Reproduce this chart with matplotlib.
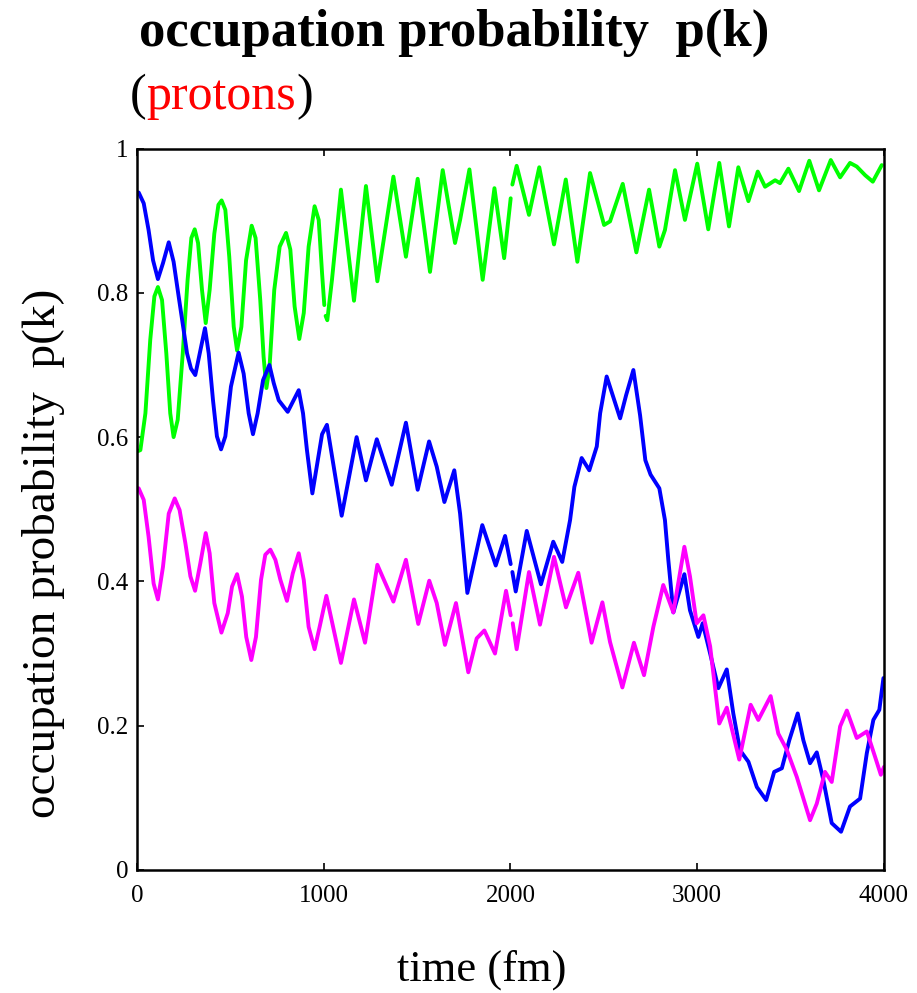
import numpy as np
import matplotlib
matplotlib.use("Agg")
import matplotlib.pyplot as plt

nan = np.nan

# green curve (gaps at 1000 and 2000 fm)
t_green = [0, 18, 45, 71, 93, 112, 134, 157, 178, 196,
           218, 245, 271, 291, 309, 327, 348, 368, 389, 414,
           436, 453, 473, 494, 518, 536, 559, 584, 614, 635,
           660, 678, 693, 710, 735, 764, 798, 821, 844, 869,
           893, 919, 951, 973, 991, 1003, nan, 1010, 1019, 1044,
           1092, 1162, 1226, 1287,
           1373, 1440, 1503, 1569, 1637, 1703, 1730, 1780, 1851, 1914,
           1966, 2001, nan, 2010, 2033, 2099, 2154, 2233, 2296, 2358,
           2426, 2501, 2533, 2601, 2674, 2742, 2797, 2827, 2881, 2934,
           3000, 3059, 3118, 3170, 3220, 3274, 3324, 3363, 3417, 3443,
           3488, 3545, 3600, 3652, 3715, 3765, 3818, 3854, 3899, 3940,
           3988]
p_green = [0.580, 0.582, 0.633, 0.735, 0.795, 0.808, 0.790, 0.716, 0.633, 0.600,
           0.624, 0.716, 0.818, 0.876, 0.888, 0.869, 0.804, 0.758, 0.804, 0.882,
           0.922, 0.928, 0.915, 0.850, 0.753, 0.720, 0.753, 0.845, 0.893, 0.876,
           0.790, 0.711, 0.668, 0.698, 0.804, 0.864, 0.883, 0.860, 0.781, 0.736,
           0.772, 0.864, 0.920, 0.901, 0.827, 0.783, nan, 0.768, 0.762, 0.818,
           0.943, 0.789, 0.948, 0.816,
           0.961, 0.850, 0.958, 0.829, 0.970, 0.869, 0.901, 0.971, 0.818, 0.945,
           0.848, 0.931, nan, 0.950, 0.976, 0.908, 0.974, 0.867, 0.957, 0.843,
           0.966, 0.894, 0.899, 0.951, 0.856, 0.943, 0.864, 0.887, 0.970, 0.901,
           0.979, 0.888, 0.980, 0.892, 0.974, 0.927, 0.968, 0.947, 0.956, 0.952,
           0.972, 0.941, 0.983, 0.942, 0.984, 0.960, 0.980, 0.975, 0.963, 0.954,
           0.977]

# blue curve
t_blue = [0, 9, 36, 62, 86, 112, 139, 170, 196, 223,
          250, 268, 289, 312, 336, 364, 384, 407, 428, 450,
          473, 503, 544, 571, 598, 621, 646, 675, 709, 732,
          759, 807, 866, 889, 910, 939, 991, 1017, 1096, 1176,
          1226, 1284, 1364, 1440, 1503, 1564, 1605, 1646, 1699, 1730,
          1769, 1849, 1921, 1971, 2001, nan, 2010, 2028, 2087, 2163,
          2229, 2277, 2319, 2342, 2381, 2422, 2462, 2480, 2515, 2587,
          2619, 2658, 2694, 2722, 2750, 2797, 2827, 2845, 2872, 2931,
          2961, 3006, 3029, 3069, 3113, 3158, 3193, 3229, 3274, 3319,
          3369, 3412, 3453, 3493, 3538, 3568, 3604, 3640, 3675, 3720,
          3770, 3818, 3872, 3908, 3943, 3975, 3997]
p_blue = [0.939, 0.939, 0.924, 0.887, 0.845, 0.819, 0.841, 0.870, 0.843, 0.795,
          0.748, 0.716, 0.695, 0.686, 0.716, 0.751, 0.716, 0.651, 0.601, 0.583,
          0.601, 0.670, 0.717, 0.688, 0.633, 0.604, 0.633, 0.679, 0.700, 0.675,
          0.651, 0.635, 0.665, 0.633, 0.582, 0.522, 0.604, 0.617, 0.491, 0.600,
          0.540, 0.597, 0.534, 0.620, 0.527, 0.594, 0.559, 0.510, 0.554, 0.494,
          0.384, 0.478, 0.422, 0.463, 0.424, nan, 0.413, 0.386, 0.470, 0.396,
          0.455, 0.427, 0.485, 0.531, 0.571, 0.554, 0.587, 0.633, 0.684, 0.626,
          0.658, 0.693, 0.630, 0.568, 0.548, 0.529, 0.485, 0.430, 0.357, 0.410,
          0.360, 0.323, 0.342, 0.300, 0.252, 0.278, 0.217, 0.166, 0.150, 0.115,
          0.097, 0.136, 0.141, 0.180, 0.217, 0.180, 0.148, 0.163, 0.125, 0.065,
          0.053, 0.088, 0.099, 0.162, 0.208, 0.222, 0.266]

# magenta curve
t_mag = [0, 9, 36, 62, 89, 112, 139, 170, 202, 228,
         259, 286, 311, 339, 368, 389, 414, 452, 486, 509,
         536, 562, 585, 612, 637, 664, 687, 714, 741, 768,
         803, 834, 866, 893, 919, 951, 978, 1014, 1092, 1162,
         1221, 1287, 1373,
         1440, 1506, 1565, 1605, 1649, 1708, 1774, 1819, 1860, 1917,
         1976, 2001, nan, 2012, 2033, 2099, 2158, 2233, 2297, 2363,
         2434, 2492, 2533, 2599, 2661, 2715, 2765, 2818, 2872, 2931,
         2961, 2997, 3033, 3069, 3118, 3158, 3225, 3286, 3327, 3393,
         3434, 3479, 3533, 3604, 3640, 3684, 3720, 3765, 3801, 3854,
         3908, 3952, 3983, 4000]
p_mag = [0.529, 0.529, 0.513, 0.462, 0.397, 0.375, 0.420, 0.494, 0.515, 0.499,
         0.453, 0.407, 0.387, 0.425, 0.467, 0.439, 0.370, 0.329, 0.356, 0.393,
         0.410, 0.379, 0.323, 0.291, 0.323, 0.402, 0.437, 0.444, 0.430, 0.402,
         0.373, 0.411, 0.439, 0.402, 0.337, 0.306, 0.337, 0.380, 0.287, 0.375,
         0.315, 0.423, 0.372,
         0.430, 0.341, 0.401, 0.370, 0.312, 0.370, 0.274, 0.321, 0.332, 0.300,
         0.387, 0.353, nan, 0.342, 0.306, 0.413, 0.340, 0.434, 0.364, 0.412,
         0.315, 0.371, 0.316, 0.253, 0.315, 0.270, 0.337, 0.395, 0.357, 0.448,
         0.407, 0.342, 0.353, 0.310, 0.203, 0.225, 0.153, 0.229, 0.208, 0.241,
         0.189, 0.167, 0.129, 0.069, 0.092, 0.136, 0.122, 0.199, 0.221, 0.183,
         0.192, 0.157, 0.132, 0.143]

x_ticks = [0, 1000, 2000, 3000, 4000]
y_ticks = [0, 0.2, 0.4, 0.6, 0.8, 1]
y_ticklabels = ["0", "0.2", "0.4", "0.6", "0.8", "1"]

plt.rcParams["font.family"] = ["Liberation Serif", "DejaVu Serif"]

W, H = 917, 993
fig = plt.figure(figsize=(W / 100, H / 100), dpi=100, facecolor="w")
ax = fig.add_axes([137 / W, 1 - 870 / H, (884 - 137) / W, (870 - 148.5) / H])

lw = 2.8
for t, p, c in [(t_green, p_green, "#00ff00"),
                (t_blue, p_blue, "#0000ff"),
                (t_mag, p_mag, "#ff00ff")]:
    ax.plot(t, p, color=c, lw=lw, solid_joinstyle="round",
            solid_capstyle="round")

ax.set_xlim(0, 4000)
ax.set_ylim(0, 1)
ax.set_xticks(x_ticks)
ax.set_yticks(y_ticks)
ax.set_yticklabels(y_ticklabels)
ax.tick_params(direction="in", length=5, width=1.2, top=True, right=False,
               labelsize=18, colors="black")
ax.tick_params(axis="x", pad=11)
ax.tick_params(axis="y", pad=6)
for s in ax.spines.values():
    s.set_linewidth(1.8)

# titles and labels
fig.text(139 / W, 1 - 46 / H, "occupation probability  p(k)", fontsize=38,
         fontweight="bold", va="baseline", ha="left")

fig.canvas.draw()
r = fig.canvas.get_renderer()
x0 = 130 / W
yb = 1 - 109 / H
for s, c in [("(", "black"), ("protons", "red"), (")", "black")]:
    txt = fig.text(x0, yb, s, fontsize=36, color=c, va="baseline", ha="left")
    x0 += txt.get_window_extent(renderer=r).width / W

fig.text(44 / W, 1 - 553 / H, "occupation probability  p(k)", fontsize=34,
         rotation=90, ha="center", va="center")
fig.text(482 / W, 1 - 970 / H, "time (fm)", fontsize=32, ha="center",
         va="center")

fig.savefig("out.png", dpi=100)
